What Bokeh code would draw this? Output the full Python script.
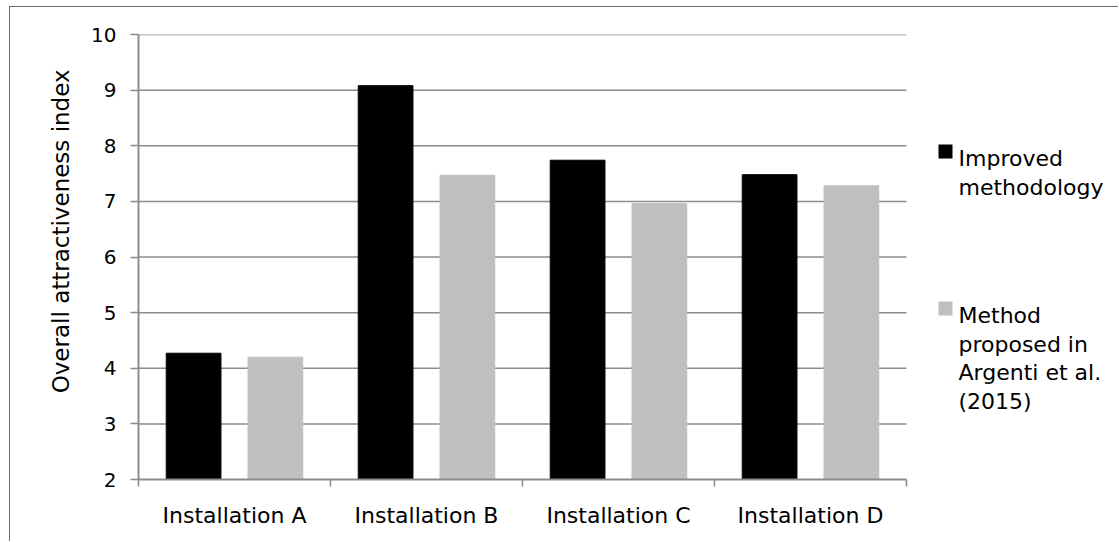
from bokeh.plotting import figure
from bokeh.models import ColumnDataSource, Range1d, FixedTicker, Label, BoxAnnotation
from bokeh.transform import dodge
from bokeh.embed import file_html
from bokeh.resources import INLINE

categories = ["Installation A", "Installation B", "Installation C", "Installation D"]
improved = [4.27, 9.08, 7.74, 7.48]
argenti = [4.20, 7.47, 6.96, 7.28]
series_names = [["Improved", "methodology"], ["Method", "proposed in", "Argenti et al.", "(2015)"]]
series_colors = ["#000000", "#bfbfbf"]
y_ticks = [2, 3, 4, 5, 6, 7, 8, 9, 10]

FONT = "DejaVu Sans"
GRID = "#8c8c8c"

n = len(categories)
W, H = 1109, 535
LEFT, TOP, BOTTOM = 128, 27, 63
PLOT_PX = 768                      # width of the category area in pixels
frame_px = W - LEFT
x_end = n * frame_px / PLOT_PX     # frame continues to the right to hold the legend

centers = [i + 0.5 for i in range(n)]
src = ColumnDataSource(dict(x=centers, improved=improved, argenti=argenti))
grid_src = ColumnDataSource(dict(y=y_ticks[1:], x0=[0] * (len(y_ticks) - 1), x1=[n] * (len(y_ticks) - 1)))

p = figure(width=W, height=H, output_backend="svg", toolbar_location=None,
           x_range=Range1d(0, x_end), y_range=Range1d(y_ticks[0], y_ticks[-1]),
           min_border_left=LEFT, min_border_right=0, min_border_top=TOP, min_border_bottom=BOTTOM)
p.styles = {"border-top": "1px solid #6e6e6e", "border-left": "1px solid #6e6e6e",
            "margin-top": "6px", "margin-left": "9px"}
p.outline_line_color = None
p.background_fill_color = "white"
p.border_fill_color = "white"

# horizontal gridlines limited to the category area
p.segment(x0="x0", x1="x1", y0="y", y1="y", source=grid_src, line_color=GRID, line_width=1.5)

p.vbar(x=dodge("x", -0.213, range=p.x_range), top="improved", bottom=y_ticks[0], width=0.285,
       source=src, fill_color=series_colors[0], line_color=series_colors[0])
p.vbar(x=dodge("x", 0.213, range=p.x_range), top="argenti", bottom=y_ticks[0], width=0.285,
       source=src, fill_color=series_colors[1], line_color=series_colors[1])

# x axis
p.xaxis.bounds = (0, n)
p.xaxis.ticker = FixedTicker(ticks=centers, minor_ticks=list(range(n + 1)))
p.xaxis.major_label_overrides = {c: lab for c, lab in zip(centers, categories)}
p.xaxis.major_tick_line_color = None
p.xaxis.major_tick_out = 0
p.xaxis.major_tick_in = 0
p.xaxis.minor_tick_out = 7
p.xaxis.minor_tick_in = 0
p.xaxis.minor_tick_line_color = GRID
p.xaxis.minor_tick_line_width = 1.5
p.xaxis.axis_line_color = GRID
p.xaxis.axis_line_width = 2
p.xaxis.major_label_text_font = FONT
p.xaxis.major_label_text_font_size = "22px"
p.xaxis.major_label_text_color = "#000000"
p.xaxis.major_label_standoff = 16
p.xgrid.grid_line_color = None
p.ygrid.grid_line_color = None

# y axis
p.yaxis.ticker = FixedTicker(ticks=y_ticks)
p.yaxis.minor_tick_line_color = None
p.yaxis.major_tick_out = 8
p.yaxis.major_tick_in = 0
p.yaxis.major_tick_line_color = GRID
p.yaxis.major_tick_line_width = 1.5
p.yaxis.axis_line_color = GRID
p.yaxis.axis_line_width = 2
p.yaxis.major_label_text_font = FONT
p.yaxis.major_label_text_font_size = "20px"
p.yaxis.major_label_text_color = "#000000"
p.yaxis.major_label_standoff = 14
p.yaxis.axis_label = "\u00a0" * 7 + "Overall attractiveness index"
p.yaxis.axis_label_text_font = FONT
p.yaxis.axis_label_text_font_size = "23px"
p.yaxis.axis_label_text_font_style = "normal"
p.yaxis.axis_label_text_color = "#000000"
p.yaxis.axis_label_standoff = 14

# legend (manual, right of the category area)
frame_h = H - TOP - BOTTOM
xs_per_px = n / PLOT_PX
ys_per_px = (y_ticks[-1] - y_ticks[0]) / frame_h
page_frame_top = 7 + TOP          # page y of the top of the plot area


def data_y(page_y):
    return y_ticks[-1] - (page_y - page_frame_top) * ys_per_px


page_frame_left = 10 + LEFT
sq_left = n + (938 - (page_frame_left + PLOT_PX)) * xs_per_px
text_x = n + (958 - (page_frame_left + PLOT_PX)) * xs_per_px
first_baselines = [158, 315]
line_step = 28.5
sq = 14
for names, color, b0 in zip(series_names, series_colors, first_baselines):
    p.add_layout(BoxAnnotation(left=sq_left, right=sq_left + sq * xs_per_px,
                               top=data_y(b0 - sq), bottom=data_y(b0),
                               fill_color=color, fill_alpha=1, line_color=None))
    for j, line in enumerate(names):
        p.add_layout(Label(x=text_x, y=data_y(b0 + j * line_step), text=line,
                           text_font=FONT, text_font_size="22px", text_color="#000000",
                           text_baseline="alphabetic", text_align="left"))

open("out.html", "w").write(file_html(p, INLINE))
